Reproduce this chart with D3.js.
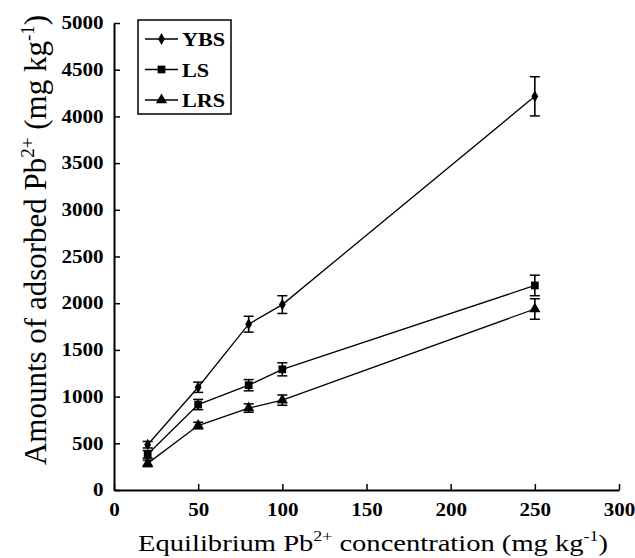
<!DOCTYPE html>
<html>
<head>
<meta charset="utf-8">
<script src="https://cdn.jsdelivr.net/npm/d3@7"></script>
<style>
  body { margin: 0; background: #fff; }
</style>
</head>
<body>
<svg id="chart" width="635" height="558"></svg>
<script>
// equilibrium concentration (mg kg-1)
var concentrations = [20, 50, 80, 100, 250];
var seriesNames = ["YBS", "LS", "LRS"];
var ybsValues = [485, 1100, 1775, 1985, 4215];
var ybsErrors = [35, 55, 85, 95, 210];
var lsValues = [382, 915, 1122, 1292, 2190];
var lsErrors = [40, 55, 60, 70, 110];
var lrsValues = [285, 690, 877, 962, 1938];
var lrsErrors = [35, 35, 45, 55, 110];
var xTicks = [0, 50, 100, 150, 200, 250, 300];
var yTicks = [0, 500, 1000, 1500, 2000, 2500, 3000, 3500, 4000, 4500, 5000];

var serifFont = "'Liberation Serif', 'Times New Roman', Times, serif";
var stretch = 1.17; // the original's text looks a bit wide

var svg = d3.select("#chart").attr("font-family", serifFont);

var x = d3.scaleLinear().domain([0, 300]).range([114, 619]);
var y = d3.scaleLinear().domain([0, 5000]).range([490, 23]);

// axes, ticks pointing inward
var xAxis = svg.append("g")
    .attr("transform", "translate(0,490)")
    .call(d3.axisBottom(x).tickValues(xTicks).tickFormat(d3.format("d"))
        .tickSizeInner(-6).tickSizeOuter(0).tickPadding(13));
var yAxis = svg.append("g")
    .attr("transform", "translate(114,0)")
    .call(d3.axisLeft(y).tickValues(yTicks).tickFormat(d3.format("d"))
        .tickSizeInner(-6).tickSizeOuter(0).tickPadding(9));

[xAxis, yAxis].forEach(function (ax) {
    ax.attr("font-family", serifFont).attr("font-size", 18);
    ax.select(".domain").attr("stroke", "#000").attr("stroke-width", 2);
    ax.selectAll(".tick line").attr("stroke", "#000").attr("stroke-width", 1.5);
    ax.selectAll(".tick text")
        .attr("font-weight", "bold")
        .attr("fill", "#000")
        .attr("transform", "scale(" + stretch + ",1)");
});

// series
var series = [
    { name: seriesNames[0], values: ybsValues, errors: ybsErrors, symbol: d3.symbolDiamond, size: 40 },
    { name: seriesNames[1], values: lsValues, errors: lsErrors, symbol: d3.symbolSquare, size: 60 },
    { name: seriesNames[2], values: lrsValues, errors: lrsErrors, symbol: d3.symbolTriangle, size: 55 }
];

var line = d3.line()
    .x(function (d) { return x(d.x); })
    .y(function (d) { return y(d.y); });

series.forEach(function (s) {
    var pts = concentrations.map(function (c, i) { return { x: c, y: s.values[i], e: s.errors[i] }; });
    var g = svg.append("g").attr("class", "series");

    g.append("path")
        .datum(pts)
        .attr("d", line)
        .attr("fill", "none")
        .attr("stroke", "#000")
        .attr("stroke-width", 1.3);

    var eb = g.selectAll(".err").data(pts).enter().append("g").attr("class", "err");
    eb.append("line")
        .attr("x1", function (d) { return x(d.x); })
        .attr("x2", function (d) { return x(d.x); })
        .attr("y1", function (d) { return y(d.y - d.e); })
        .attr("y2", function (d) { return y(d.y + d.e); })
        .attr("stroke", "#000").attr("stroke-width", 1.6);
    [-1, 1].forEach(function (sgn) {
        eb.append("line")
            .attr("x1", function (d) { return x(d.x) - 5; })
            .attr("x2", function (d) { return x(d.x) + 5; })
            .attr("y1", function (d) { return y(d.y + sgn * d.e); })
            .attr("y2", function (d) { return y(d.y + sgn * d.e); })
            .attr("stroke", "#000").attr("stroke-width", 1.5);
    });

    g.selectAll(".pt").data(pts).enter().append("path")
        .attr("class", "pt")
        .attr("d", d3.symbol().type(s.symbol).size(s.size))
        .attr("transform", function (d) { return "translate(" + x(d.x) + "," + y(d.y) + ")"; })
        .attr("fill", "#000");
});

// legend
var legend = svg.append("g").attr("transform", "translate(138,20)");
legend.append("rect")
    .attr("width", 93).attr("height", 94)
    .attr("fill", "#fff").attr("stroke", "#000").attr("stroke-width", 1.5);
series.forEach(function (s, i) {
    var row = legend.append("g").attr("transform", "translate(0," + (19 + i * 30.5) + ")");
    row.append("line").attr("x1", 7).attr("x2", 40).attr("y1", 0).attr("y2", 0)
        .attr("stroke", "#000").attr("stroke-width", 1.5);
    row.append("path")
        .attr("d", d3.symbol().type(s.symbol).size(s.size))
        .attr("transform", "translate(23.5,0)")
        .attr("fill", "#000");
    row.append("text")
        .attr("transform", "translate(44,7) scale(" + stretch + ",1)")
        .attr("font-weight", "bold").attr("font-size", 19)
        .text(s.name);
});

// axis titles
var xt = svg.append("text")
    .attr("transform", "translate(373,551) scale(1.19,1)")
    .attr("text-anchor", "middle")
    .attr("font-size", 24);
xt.append("tspan").text("Equilibrium Pb");
xt.append("tspan").attr("dy", -10).attr("font-size", 15).text("2+");
xt.append("tspan").attr("dy", 10).text(" concentration (mg kg");
xt.append("tspan").attr("dy", -10).attr("font-size", 15).text("-1");
xt.append("tspan").attr("dy", 10).text(")");

var yt = svg.append("text")
    .attr("transform", "translate(46,240) rotate(-90)")
    .attr("text-anchor", "middle")
    .attr("font-size", 31);
yt.append("tspan").text("Amounts of adsorbed Pb");
yt.append("tspan").attr("dy", -12).attr("font-size", 19).text("2+");
yt.append("tspan").attr("dy", 12).text(" (mg kg");
yt.append("tspan").attr("dy", -12).attr("font-size", 19).text("-1");
yt.append("tspan").attr("dy", 12).text(")");
</script>
</body>
</html>
